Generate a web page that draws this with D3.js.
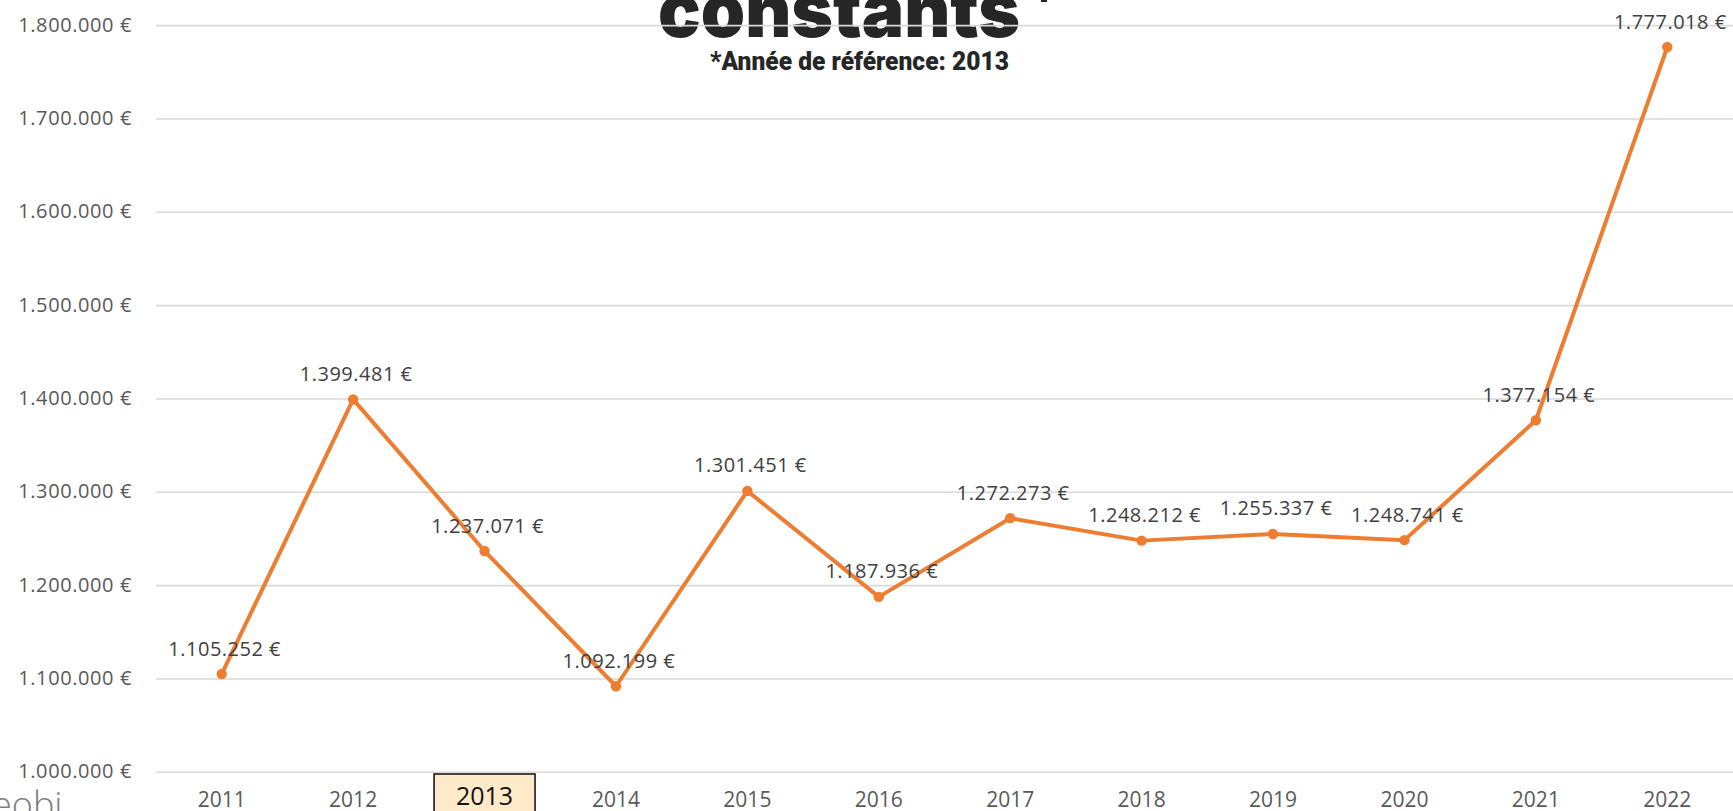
<!DOCTYPE html>
<html>
<head>
<meta charset="utf-8">
<script src="https://cdn.jsdelivr.net/npm/d3@7"></script>
<style>
  html, body { margin: 0; padding: 0; background: #fff; overflow: hidden; }
  svg { display: block; }
</style>
</head>
<body>
<div id="chart"></div>
<script>
var years = ['2011', '2012', '2013', '2014', '2015', '2016', '2017', '2018', '2019', '2020', '2021', '2022'];
var values = [1105252, 1399481, 1237071, 1092199, 1301451, 1187936, 1272273, 1248212, 1255337, 1248741, 1377154, 1777018];
var yTicks = [1000000, 1100000, 1200000, 1300000, 1400000, 1500000, 1600000, 1700000, 1800000];
var highlightYear = '2013';

var width = 1733, height = 811;
var orange = '#ED7D31';
var numFont = '"Open Sans", sans-serif';

var svg = d3.select('#chart')
    .append('svg')
    .attr('width', width)
    .attr('height', height);

var x = d3.scaleBand()
    .domain(years)
    .range([156, 1733])
    .padding(0);

var y = d3.scaleLinear()
    .domain([1000000, 1800000])
    .range([772.3, 25.6]);

// euro format with dots as thousands separator
var fmt = d3.formatLocale({decimal: ',', thousands: '.', grouping: [3], currency: ['', ' €']}).format('$,.0f');

var cx = function(d, i) { return x(years[i]) + x.bandwidth() / 2; };

// title (cut at top of picture)
var title = svg.append('text')
    .attr('x', 658)
    .attr('y', 37)
    .style('font-family', 'Inter, "Open Sans", sans-serif')
    .style('font-weight', 900)
    .style('font-size', '76px')
    .attr('fill', '#262626');
title.append('tspan')
    .attr('textLength', 362)
    .attr('lengthAdjust', 'spacingAndGlyphs')
    .text('constants');
title.append('tspan')
    .style('font-size', '56px')
    .attr('dx', 7)
    .attr('dy', -17)
    .text('*');

svg.append('text')
    .attr('x', 859.5)
    .attr('y', 69.5)
    .attr('text-anchor', 'middle')
    .attr('textLength', 299)
    .attr('lengthAdjust', 'spacingAndGlyphs')
    .style('font-family', 'Roboto, sans-serif')
    .style('font-weight', 900)
    .style('font-size', '25px')
    .attr('fill', '#262626')
    .text('*Année de référence: 2013');

// gridlines
svg.selectAll('line.grid')
    .data(yTicks)
    .enter()
    .append('line')
    .attr('class', 'grid')
    .attr('x1', 156)
    .attr('x2', width)
    .attr('y1', function(d) { return y(d); })
    .attr('y2', function(d) { return y(d); })
    .attr('stroke', '#D9D9D9')
    .attr('stroke-width', 1.6);

// y axis labels
svg.selectAll('text.ylab')
    .data(yTicks)
    .enter()
    .append('text')
    .attr('class', 'ylab')
    .attr('x', 132)
    .attr('y', function(d) { return y(d) + 6; })
    .attr('text-anchor', 'end')
    .style('font-family', numFont)
    .style('font-size', '20px')
    .style('letter-spacing', '0.6px')
    .attr('fill', '#595959')
    .text(function(d) { return fmt(d); });

// highlighted year box
svg.append('rect')
    .attr('x', x(highlightYear) + x.bandwidth() / 2 - 50.5)
    .attr('y', 774)
    .attr('width', 101)
    .attr('height', 60)
    .attr('fill', '#FEE9C8')
    .attr('stroke', '#1a1a1a')
    .attr('stroke-width', 1.6);

// x axis labels
svg.selectAll('text.xlab')
    .data(years)
    .enter()
    .append('text')
    .attr('class', 'xlab')
    .attr('x', function(d) { return x(d) + x.bandwidth() / 2; })
    .attr('y', function(d) { return d === highlightYear ? 805 : 806.5; })
    .attr('text-anchor', 'middle')
    .style('font-family', numFont)
    .style('font-size', function(d) { return d === highlightYear ? '25px' : '21px'; })
    .attr('fill', function(d) { return d === highlightYear ? '#111' : '#595959'; })
    .text(function(d) { return d; });

// line
var line = d3.line()
    .x(cx)
    .y(function(d) { return y(d); });

svg.append('path')
    .datum(values)
    .attr('d', line)
    .attr('fill', 'none')
    .attr('stroke', orange)
    .attr('stroke-width', 4)
    .attr('stroke-linejoin', 'round');

svg.selectAll('circle')
    .data(values)
    .enter()
    .append('circle')
    .attr('cx', cx)
    .attr('cy', function(d) { return y(d); })
    .attr('r', 5.2)
    .attr('fill', orange);

// data labels
svg.selectAll('text.vlab')
    .data(values)
    .enter()
    .append('text')
    .attr('class', 'vlab')
    .attr('x', function(d, i) { return cx(d, i) + 3; })
    .attr('y', function(d) { return y(d) - 18.5; })
    .attr('text-anchor', 'middle')
    .style('font-family', numFont)
    .style('font-size', '20px')
    .style('letter-spacing', '0.5px')
    .attr('fill', '#404040')
    .text(function(d) { return fmt(d); });

// logo, cut at the bottom left
svg.append('text')
    .attr('x', -8)
    .attr('y', 818)
    .style('font-family', '"Open Sans", sans-serif')
    .style('font-weight', 300)
    .style('font-size', '36px')
    .attr('fill', '#7f7f7f')
    .text('eobi');
</script>
</body>
</html>
